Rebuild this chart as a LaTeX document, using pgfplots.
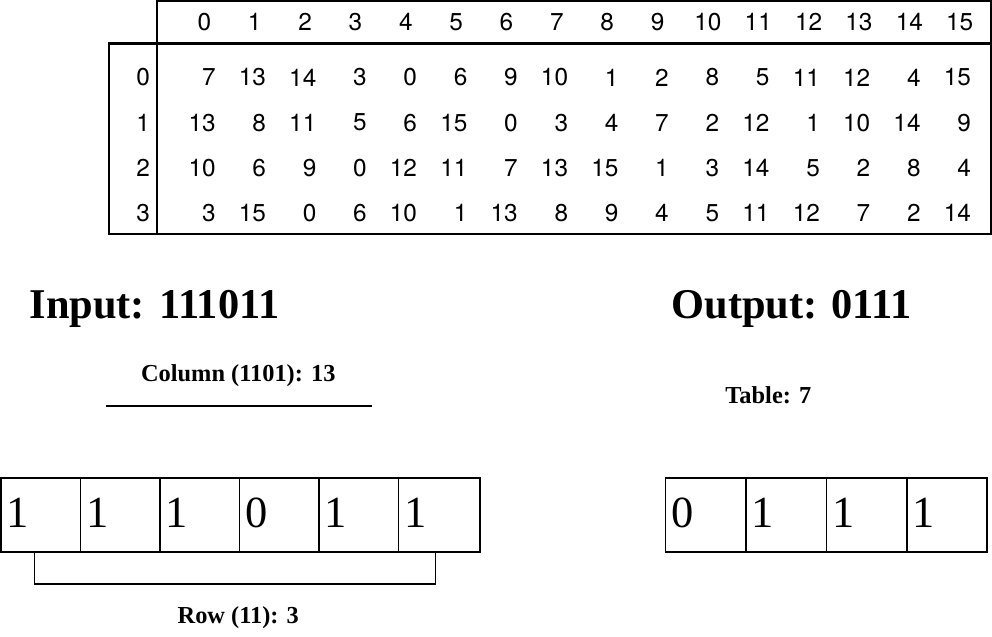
\documentclass[border=0pt]{standalone}
\usepackage{pgfplots}
\pgfplotsset{compat=1.18}
\usepackage{fontspec}
\setmainfont{Liberation Serif}
\newfontfamily\tabfont{TeX Gyre Heros}
\begin{document}
\begin{tikzpicture}[x=1pt,y=1pt]
\begin{axis}[scale only axis, width=496pt, height=316pt, xmin=0, xmax=992, ymin=0, ymax=632,
  axis lines=none, clip=false, ticks=none]
\addplot[only marks, mark=none, nodes near coords, point meta=explicit symbolic,
  nodes near coords style={anchor=east, font=\tabfont\fontsize{11.5}{12}\selectfont, inner sep=0pt}]
 table[x expr=241+47.5*\thisrow{c}, y expr=532-42.7*\thisrow{r}, meta=v] {
c r v
0 0 7
1 0 13
2 0 14
3 0 3
4 0 0
5 0 6
6 0 9
7 0 10
8 0 1
9 0 2
10 0 8
11 0 5
12 0 11
13 0 12
14 0 4
15 0 15
0 1 13
1 1 8
2 1 11
3 1 5
4 1 6
5 1 15
6 1 0
7 1 3
8 1 4
9 1 7
10 1 2
11 1 12
12 1 1
13 1 10
14 1 14
15 1 9
0 2 10
1 2 6
2 2 9
3 2 0
4 2 12
5 2 11
6 2 7
7 2 13
8 2 15
9 2 1
10 2 3
11 2 14
12 2 5
13 2 2
14 2 8
15 2 4
0 3 3
1 3 15
2 3 0
3 3 6
4 3 10
5 3 1
6 3 13
7 3 8
8 3 9
9 3 4
10 3 5
11 3 11
12 3 12
13 3 7
14 3 2
15 3 14
};
\addplot[only marks, mark=none, nodes near coords, point meta=explicit symbolic,
  nodes near coords style={anchor=center, font=\tabfont\fontsize{11.5}{12}\selectfont, inner sep=0pt}]
 table[x expr=230+47.5*\thisrow{c}, y expr=584, meta=c] {
c
0
1
2
3
4
5
6
7
8
9
10
11
12
13
14
15
};
\addplot[only marks, mark=none, nodes near coords, point meta=explicit symbolic,
  nodes near coords style={anchor=east, font=\tabfont\fontsize{11.5}{12}\selectfont, inner sep=0pt}]
 table[x expr=179, y expr=532-42.7*\thisrow{r}, meta=r] {
r
0
1
2
3
};
\addplot[only marks, mark=none, nodes near coords, point meta=explicit symbolic,
  nodes near coords style={anchor=west, font=\fontsize{21}{22}\selectfont, inner sep=1pt}]
 table[meta=d] {
x y d
41 121 1
116 121 1
191 121 1
266 121 0
341 121 1
416 121 1
668 121 0
744 121 1
820 121 1
896 121 1
};
\draw[line width=1pt] (185,604) rectangle (972,564);
\draw[line width=1pt] (185,564) rectangle (972,384);
\draw[line width=1pt] (140,564) rectangle (185,384);
\node[font=\bfseries\fontsize{20}{22}\selectfont] at (183,314) {Input: 111011};
\node[font=\bfseries\fontsize{20}{22}\selectfont] at (784,314) {Output: 0111};
\node[font=\bfseries\fontsize{11.5}{12}\selectfont] at (262,251) {Column (1101): 13};
\draw[line width=0.6pt] (137,222) -- (388,222);
\node[font=\bfseries\fontsize{11.5}{12}\selectfont] at (762,232) {Table: 7};
\node[font=\bfseries\fontsize{11.5}{12}\selectfont] at (262,22) {Row (11): 3};
\draw[line width=0.8pt] (38,154) rectangle (490,84);
\draw[line width=0.8pt] (113,154) -- (113,84);
\draw[line width=0.8pt] (188,154) -- (188,84);
\draw[line width=0.8pt] (263,154) -- (263,84);
\draw[line width=0.8pt] (338,154) -- (338,84);
\draw[line width=0.8pt] (413,154) -- (413,84);
\draw[line width=0.8pt] (665,154) rectangle (968,84);
\draw[line width=0.8pt] (741,154) -- (741,84);
\draw[line width=0.8pt] (817,154) -- (817,84);
\draw[line width=0.8pt] (893,154) -- (893,84);
\draw[line width=0.6pt] (70,84) -- (70,54) -- (448,54) -- (448,84);
\end{axis}
\end{tikzpicture}
\end{document}
